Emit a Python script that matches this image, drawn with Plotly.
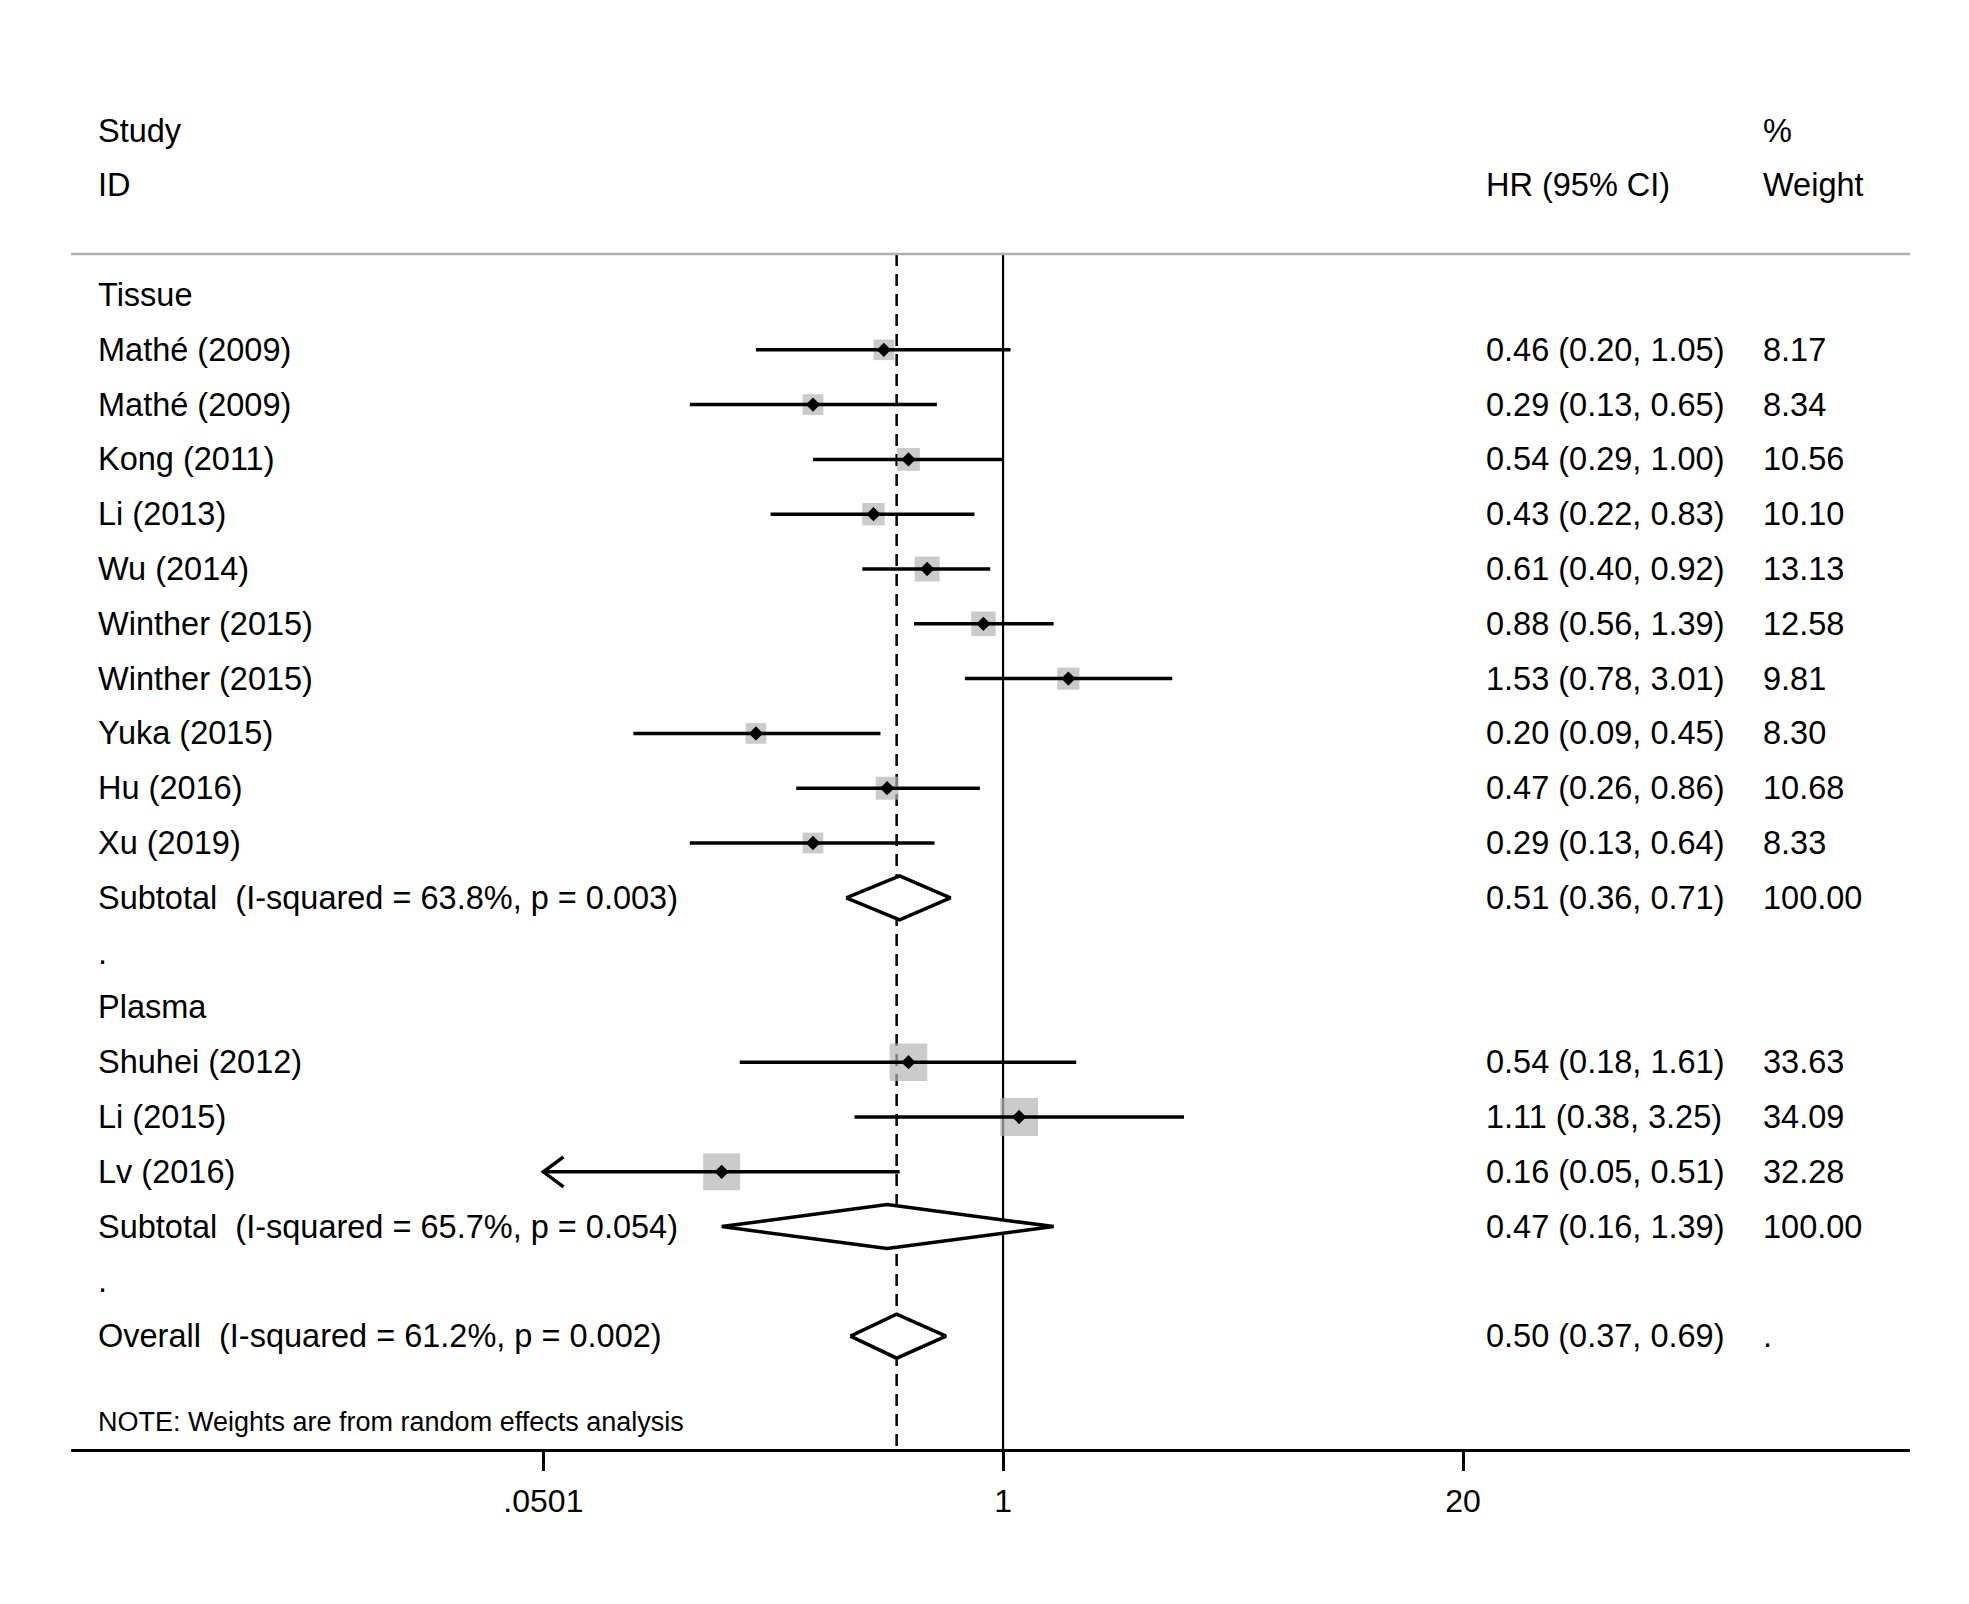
import plotly.graph_objects as go
import numpy as np

# study data
tissue_ids = ["Mathé (2009)", "Mathé (2009)", "Kong (2011)", "Li (2013)", "Wu (2014)",
              "Winther (2015)", "Winther (2015)", "Yuka (2015)", "Hu (2016)", "Xu (2019)"]
tissue_hr = [0.46, 0.29, 0.54, 0.43, 0.61, 0.88, 1.53, 0.20, 0.47, 0.29]
tissue_lo = [0.20, 0.13, 0.29, 0.22, 0.40, 0.56, 0.78, 0.09, 0.26, 0.13]
tissue_hi = [1.05, 0.65, 1.00, 0.83, 0.92, 1.39, 3.01, 0.45, 0.86, 0.64]
tissue_wt = [8.17, 8.34, 10.56, 10.10, 13.13, 12.58, 9.81, 8.30, 10.68, 8.33]
tissue_sub = [0.51, 0.36, 0.71]
tissue_het = ["63.8%", "0.003"]

plasma_ids = ["Shuhei (2012)", "Li (2015)", "Lv (2016)"]
plasma_hr = [0.54, 1.11, 0.16]
plasma_lo = [0.18, 0.38, 0.05]
plasma_hi = [1.61, 3.25, 0.51]
plasma_wt = [33.63, 34.09, 32.28]
plasma_sub = [0.47, 0.16, 1.39]
plasma_het = ["65.7%", "0.054"]

overall = [0.50, 0.37, 0.69]
overall_het = ["61.2%", "0.002"]

tick_vals = [0.0501, 1, 20]
tick_text = [".0501", "1", "20"]

FONT = "Liberation Sans, Arial, sans-serif"
W, H = 1969, 1604
OFF = 8                          # page body margin
ML, MR, MT, MB = 71 - OFF, 59 + OFF, 60 - OFF, 155 + OFF
ROW0, ROWH = 295, 54.8           # page y of first row, row height
PX_PER_DEC = 352.0               # pixels per log10 unit
X_ONE = 999                      # page x of HR = 1
TXT = 32.5


def row_at(py):
    return (py - ROW0) / ROWH


def paper_x(px):
    return (px - OFF - ML) / (W - ML - MR)


xmin = tick_vals[0]
fig = go.Figure()
ann = []


def txt(x, row, s, size=TXT):
    ann.append(dict(x=paper_x(x), xref="paper", y=row, yref="y", text=s, showarrow=False,
                    xanchor="left", yanchor="middle", font=dict(size=size, color="black", family=FONT)))


# headers
txt(96, -3, "Study")
txt(96, -2, "ID")
txt(1484, -2, "HR (95% CI)")
txt(1761, -3, "%")
txt(1761, -2, "Weight")

groups = [("Tissue", tissue_ids, tissue_hr, tissue_lo, tissue_hi, tissue_wt, tissue_sub, tissue_het),
          ("Plasma", plasma_ids, plasma_hr, plasma_lo, plasma_hi, plasma_wt, plasma_sub, plasma_het)]

ci_x, ci_y = [], []
pt_x, pt_y, box_s = [], [], []
arrows = []
diamonds = []
r = 0
for gname, ids, hr, lo, hi, wt, sub, het in groups:
    txt(96, r, gname)
    r += 1
    for name, h, l, u, w in zip(ids, hr, lo, hi, wt):
        txt(96, r, name)
        txt(1484, r, f"{h:.2f} ({l:.2f}, {u:.2f})")
        txt(1761, r, f"{w:.2f}")
        ci_x += [max(l, xmin), u, None]
        ci_y += [r, r, None]
        if l < xmin:
            arrows.append(r)
        pt_x.append(h)
        pt_y.append(r)
        box_s.append(4 + 5.8 * np.sqrt(w))
        r += 1
    txt(96, r, f"Subtotal\u00a0 (I-squared = {het[0]}, p = {het[1]})")
    txt(1484, r, f"{sub[0]:.2f} ({sub[1]:.2f}, {sub[2]:.2f})")
    txt(1761, r, "100.00")
    diamonds.append((sub, r))
    r += 1
    txt(96, r, ".")
    r += 1

txt(96, r, f"Overall\u00a0 (I-squared = {overall_het[0]}, p = {overall_het[1]})")
txt(1484, r, f"{overall[0]:.2f} ({overall[1]:.2f}, {overall[2]:.2f})")
txt(1761, r, ".")
diamonds.append((overall, r))
txt(96, row_at(1422), "NOTE: Weights are from random effects analysis", size=27)

y_top = row_at(254)
y_bot = row_at(H - MB + OFF)

# reference lines
fig.add_trace(go.Scatter(x=[1, 1], y=[y_top, y_bot], mode="lines",
                         line=dict(color="black", width=2.2), hoverinfo="skip"))
fig.add_trace(go.Scatter(x=[overall[0], overall[0]], y=[y_top, y_bot], mode="lines",
                         line=dict(color="black", width=2.5, dash="12px,8px"), hoverinfo="skip"))

# weight boxes
fig.add_trace(go.Scatter(x=pt_x, y=pt_y, mode="markers",
                         marker=dict(symbol="square", size=box_s, color="#b5b5b5", line=dict(width=0))))
# confidence intervals
fig.add_trace(go.Scatter(x=ci_x, y=ci_y, mode="lines", line=dict(color="black", width=3.5)))
# arrowheads for truncated intervals
for ar in arrows:
    k = 10 ** (20 / PX_PER_DEC)
    dy = 15 / ROWH
    fig.add_trace(go.Scatter(x=[xmin * k, xmin, xmin * k], y=[ar - dy, ar, ar + dy], mode="lines",
                             line=dict(color="black", width=3.5)))
# point estimates
fig.add_trace(go.Scatter(x=pt_x, y=pt_y, mode="markers",
                         marker=dict(symbol="diamond", size=11, color="black")))
# pooled diamonds
for (est, lo_, hi_), dr in diamonds:
    hh = 22 / ROWH
    fig.add_trace(go.Scatter(x=[lo_, est, hi_, est, lo_], y=[dr, dr - hh, dr, dr + hh, dr],
                             mode="lines", fill="toself", fillcolor="white",
                             line=dict(color="black", width=3.5)))

fig.update_layout(
    width=W, height=H,
    margin=dict(l=ML, r=MR, t=MT, b=MB),
    plot_bgcolor="white", paper_bgcolor="white",
    showlegend=False,
    annotations=ann,
    shapes=[dict(type="line", xref="paper", x0=0, x1=1, yref="y", y0=y_top, y1=y_top,
                 line=dict(color="#b0b0b0", width=2.5))],
    font=dict(family=FONT, color="black"),
)
fig.update_xaxes(type="log",
                 range=[-(X_ONE - OFF - ML) / PX_PER_DEC, (W - OFF - MR - (X_ONE - OFF)) / PX_PER_DEC],
                 tickvals=tick_vals, ticktext=tick_text,
                 showgrid=False, zeroline=False,
                 showline=True, linecolor="black", linewidth=2.5,
                 ticks="outside", ticklen=19, tickwidth=2.5, tickcolor="black",
                 ticklabelstandoff=3,
                 tickfont=dict(size=32, color="black", family=FONT))
fig.update_yaxes(range=[row_at(H - MB + OFF), row_at(MT + OFF)], visible=False)

fig.write_html("out.html")
